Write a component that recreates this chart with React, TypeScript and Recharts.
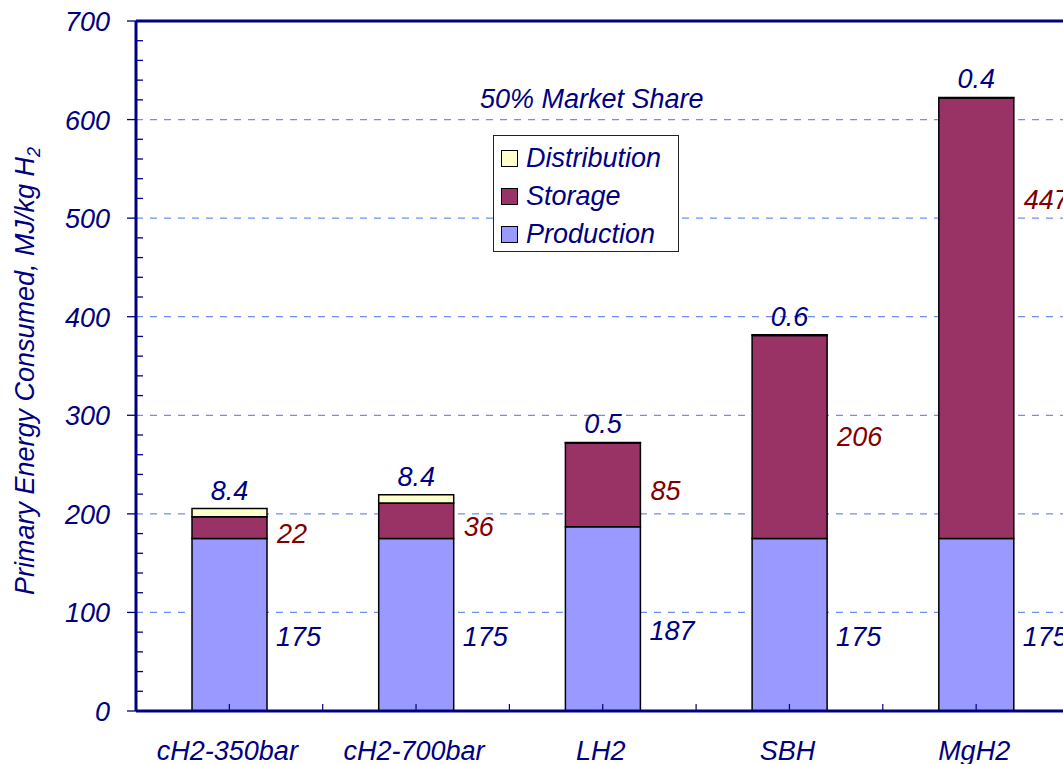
import {
  Bar,
  BarChart,
  CartesianGrid,
  Label,
  LabelList,
  Legend,
  ReferenceLine,
  XAxis,
  YAxis,
} from 'recharts';

const categories = ['cH2-350bar', 'cH2-700bar', 'LH2', 'SBH', 'MgH2'];
const production = [175, 175, 187, 175, 175];
const storage = [22, 36, 85, 206, 447];
const distribution = [8.4, 8.4, 0.5, 0.6, 0.4];

const legendOrder = ['Distribution', 'Storage', 'Production'];

const yMajorTicks = [0, 100, 200, 300, 400, 500, 600, 700];
const yMinorStep = 20;
const gridValues = [100, 200, 300, 400, 500, 600];

const data = categories.map((name, i) => ({
  name,
  production: production[i],
  storage: storage[i],
  distribution: distribution[i],
}));

const yTicks: number[] = [];
for (let v = 0; v <= 700; v += yMinorStep) yTicks.push(v);

const FONT = '"Liberation Sans", Arial, sans-serif';
const NAVY = '#000080';
const MAROON = '#800000';

const CHART_W = 1081;
const CHART_H = 764;
const MARGIN = { top: 21, right: 11.5, bottom: 0, left: 0 };
const Y_AXIS_W = 136;
const BAND = (CHART_W - MARGIN.left - MARGIN.right - Y_AXIS_W) / categories.length;

const textStyle = { fontFamily: FONT, fontStyle: 'italic' as const, fontSize: 27 };

function YTick(props: any) {
  const { x, y, payload } = props;
  const major = yMajorTicks.includes(payload.value);
  if (!major) {
    return <line x1={x} x2={x + 7} y1={y} y2={y} stroke={NAVY} strokeWidth={1.3} />;
  }
  return (
    <g>
      <line x1={x - 9} x2={x} y1={y} y2={y} stroke={NAVY} strokeWidth={1.3} />
      <text x={x - 26} y={y + 10} textAnchor="end" fill={NAVY} {...textStyle}>
        {payload.value}
      </text>
    </g>
  );
}

function XTick(props: any) {
  const { x, y, payload } = props;
  return (
    <g>
      <line x1={x} x2={x} y1={y} y2={y - 7} stroke={NAVY} strokeWidth={1.2} />
      <line x1={x + BAND / 2} x2={x + BAND / 2} y1={y} y2={y - 7} stroke={NAVY} strokeWidth={1.2} />
      <text x={x - 2} y={y + 49} textAnchor="middle" fill={NAVY} {...textStyle}>
        {payload.value}
      </text>
    </g>
  );
}

function YTitle(props: any) {
  const vb = props.viewBox ?? { x: 0, y: 21, width: 136, height: 690 };
  const cx = 34;
  const cy = vb.y + vb.height / 2 + 5;
  return (
    <text
      x={cx}
      y={cy}
      transform={`rotate(-90, ${cx}, ${cy})`}
      textAnchor="middle"
      fill={NAVY}
      {...textStyle}
    >
      Primary Energy Consumed, MJ/kg H
      <tspan fontSize={18} dy={6}>
        2
      </tspan>
    </text>
  );
}

function MarketShareLabel(props: any) {
  const vb = props.viewBox ?? { x: 136, y: 21, width: 933 };
  return (
    <text x={vb.x + vb.width / 2 - 11} y={vb.y + 87} textAnchor="middle" fill={NAVY} {...textStyle}>
      50% Market Share
    </text>
  );
}

function ProductionLabel(props: any) {
  const { x, y, width, height, value } = props;
  return (
    <text x={x + width + 9} y={y + height / 2 + 21} fill={NAVY} {...textStyle}>
      {value}
    </text>
  );
}

function StorageLabel(props: any) {
  const { x, y, width, height, value } = props;
  // tall segments keep their label near the top
  const ty = Math.min(y + height / 2 + 15, y + 111);
  return (
    <text x={x + width + 10} y={ty} fill={MAROON} {...textStyle}>
      {value}
    </text>
  );
}

function DistributionLabel(props: any) {
  const { x, y, width, value } = props;
  return (
    <text x={x + width / 2} y={y - 9} textAnchor="middle" fill={NAVY} {...textStyle}>
      {value}
    </text>
  );
}

function LegendBox(props: any) {
  const payload: any[] = props.payload ?? [];
  const items = legendOrder
    .map((name) => payload.find((p) => p.value === name))
    .filter(Boolean);
  return (
    <div
      style={{
        boxSizing: 'border-box',
        width: 186,
        height: 117,
        border: '1px solid #222',
        background: '#fff',
        padding: '3px 0 0 7px',
        color: NAVY,
        ...textStyle,
        lineHeight: '38px',
      }}
    >
      {items.map((it: any) => (
        <div key={it.value} style={{ display: 'flex', alignItems: 'center', height: 38 }}>
          <span
            style={{
              display: 'inline-block',
              boxSizing: 'border-box',
              width: 17,
              height: 17,
              border: '1.5px solid #000',
              background: it.color,
              marginRight: 8,
            }}
          />
          <span>{it.value}</span>
        </div>
      ))}
    </div>
  );
}

export default function App() {
  return (
    <div
      style={{
        position: 'absolute',
        left: 0,
        top: 0,
        width: 1063,
        height: 764,
        overflow: 'hidden',
        background: '#fff',
      }}
    >
      <BarChart width={CHART_W} height={CHART_H} data={data} margin={MARGIN} barCategoryGap="30%">
        <CartesianGrid
          vertical={false}
          horizontalValues={gridValues}
          stroke="#6f8ff0"
          strokeWidth={1.2}
          strokeDasharray="7 7"
        />
        <XAxis
          dataKey="name"
          height={53}
          interval={0}
          tickLine={false}
          tickSize={0}
          tickMargin={0}
          axisLine={{ stroke: NAVY, strokeWidth: 3 }}
          tick={<XTick />}
        />
        <YAxis
          width={Y_AXIS_W}
          domain={[0, 700]}
          ticks={yTicks}
          interval={0}
          tickLine={false}
          tickSize={0}
          tickMargin={0}
          axisLine={{ stroke: NAVY, strokeWidth: 3 }}
          tick={<YTick />}
          label={<YTitle />}
        />
        <ReferenceLine y={700} stroke={NAVY} strokeWidth={3}>
          <Label content={<MarketShareLabel />} />
        </ReferenceLine>
        <Legend
          layout="horizontal"
          verticalAlign="middle"
          align="center"
          content={<LegendBox />}
          wrapperStyle={{ left: 493, top: 135, width: 186 }}
        />
        <Bar
          dataKey="production"
          name="Production"
          stackId="a"
          fill="#9999ff"
          stroke="#000"
          strokeWidth={1.5}
          isAnimationActive={false}
        >
          <LabelList dataKey="production" content={<ProductionLabel />} />
        </Bar>
        <Bar
          dataKey="storage"
          name="Storage"
          stackId="a"
          fill="#993366"
          stroke="#000"
          strokeWidth={1.5}
          isAnimationActive={false}
        >
          <LabelList dataKey="storage" content={<StorageLabel />} />
        </Bar>
        <Bar
          dataKey="distribution"
          name="Distribution"
          stackId="a"
          fill="#ffffcc"
          stroke="#000"
          strokeWidth={1.5}
          isAnimationActive={false}
        >
          <LabelList dataKey="distribution" content={<DistributionLabel />} />
        </Bar>
      </BarChart>
    </div>
  );
}
